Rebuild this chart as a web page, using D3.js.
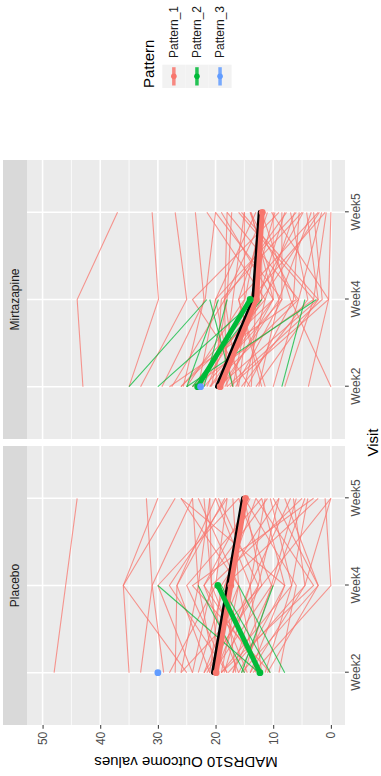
<!DOCTYPE html>
<html>
<head>
<meta charset="utf-8">
<script src="https://cdn.jsdelivr.net/npm/d3@7"></script>
<style>
  html, body { margin: 0; padding: 0; background: #ffffff; }
  svg { display: block; font-family: "Liberation Sans", Arial, sans-serif; }
</style>
</head>
<body>
<svg id="chart" width="381" height="776"></svg>
<script>
// ---- data ----
const visits = ["Week2", "Week4", "Week5"];
const treatments = ["Placebo", "Mirtazapine"];
const patterns = ["Pattern_1", "Pattern_2", "Pattern_3"];
const valueTicks = [0, 10, 20, 30, 40, 50];
const valueMinorTicks = [5, 15, 25, 35, 45];

// individual MADRS10 trajectories, one entry per subject: [Week2, Week4, Week5]
const placeboPattern1 = [
  [48, 46, 44], [35, 36, 30], [33, 31, 24], [29, 31, 32], [27, 26.7, 20],
  [26, 23, 24], [25, 36, 27], [24, 20.7, 22], [23, 18.4, 13], [22, 16, 26],
  [21.5, 12.6, 9], [21, 26.7, 18.4], [20.5, 10.3, 6], [20, 23, 21], [19.5, 20.7, 21],
  [19, 6.8, 4], [19, 16, 23], [18.5, 14, 11.4], [18, 28, 18], [17.8, 4.5, 0],
  [17, 12.6, 19.5], [16.5, 18.4, 2.2], [16, 22, 14], [15.5, 2.2, 8], [15, 10.3, 16],
  [14.5, 20.7, 5], [14, 8, 12], [13.5, 0, 1], [13, 16, 17], [12, 14, 7],
  [11.4, 6.8, 10.5], [10.5, 24, 3], [17, 10, 4.5], [22, 12, 0], [14, 4.5, 6.5],
  [11, 2.2, 10], [9, 6, 15], [28, 20, 18], [24, 30, 16], [16, 8, 26],
  [21, 19, 9], [18, 25, 12], [20, 14, 20], [12, 22, 11], [26, 12, 15], [19, 3, 13]
];
// dropouts after Week4: [Week2, Week4]
const placeboPattern2 = [[12.5, 30], [15, 23], [10.5, 19], [8, 16], [15.5, 10]];
// dropouts after Week2: [Week2]
const placeboPattern3 = [[30]];

const mirtazapinePattern1 = [
  [43, 44, 37], [35, 29.9, 31], [33, 25, 27], [29.3, 21.8, 20], [27.6, 18.4, 18],
  [25.6, 22, 23.5], [25, 15, 15], [24, 11.4, 21.5], [23, 20, 13], [22, 8.5, 20],
  [21.5, 14.9, 12], [21, 5.6, 18], [20.7, 18, 17.2], [20, 12, 12], [19.5, 2.2, 15.5],
  [19, 17, 15], [18.4, 10, 13.8], [18, 18.5, 11.4], [17.5, 0.4, 10.3], [17, 14, 9.7],
  [16.5, 8.5, 8.5], [16.1, 18.4, 7.7], [15.5, 4, 7], [15, 11.4, 6.3], [14.5, 6.5, 5.5],
  [13.8, 13, 4.8], [13, 2.2, 4.2], [12.5, 9, 3.4], [11.4, 16, 2.2], [10, 5.6, 1.6],
  [8, 3, 0.8], [3.9, 0.4, 0], [0, 7, 12], [26, 10, 10], [22.5, 12.6, 8],
  [20, 19, 5], [18, 1.5, 3], [16, 14, 1], [28, 6, 14], [14, 24, 9],
  [24, 3, 16], [17, 20, 6], [21, 10, 19], [12, 16, 11], [26, 12, 2], [19, 9, 14]
];
const mirtazapinePattern2 = [
  [35, 21.5], [30, 13], [25, 2.5], [22, 18], [17, 21], [24, 12], [8.5, 4.5], [25, 19.5]
];
const mirtazapinePattern3 = [[22.6]];

// mean profile per pattern, and the overall mean profile
const placeboMeanP1 = [19.9, 17.35, 14.8];
const placeboMeanP2 = [12.3, 19.6];
const placeboMeanP3 = [30];
const placeboOverall = [20.4, 17.8, 15.2];
const mirtazapineMeanP1 = [19.2, 12.9, 11.9];
const mirtazapineMeanP2 = [23.1, 14.0];
const mirtazapineMeanP3 = [22.6];
const mirtazapineOverall = [19.7, 13.4, 12.3];

// ---- layout / style ----
const patternColors = ["#F8766D", "#00BA38", "#619CFF"];
const W = 776, H = 381;              // plot drawn landscape, then turned
const panelTop = 27, panelBottom = 345;
const facetRange = { Placebo: [51, 330], Mirtazapine: [337, 616] };

const facets = {
  Placebo: {
    subjects: [placeboPattern1, placeboPattern2, placeboPattern3],
    means: [placeboMeanP1, placeboMeanP2, placeboMeanP3],
    overall: placeboOverall
  },
  Mirtazapine: {
    subjects: [mirtazapinePattern1, mirtazapinePattern2, mirtazapinePattern3],
    means: [mirtazapineMeanP1, mirtazapineMeanP2, mirtazapineMeanP3],
    overall: mirtazapineOverall
  }
};

const svg = d3.select("#chart");
const root = svg.append("g").attr("transform", `translate(0,${W}) rotate(-90)`);

const y = d3.scaleLinear().domain([-2.45, 52.7]).range([panelBottom, panelTop]);

treatments.forEach(t => {
  const [x0, x1] = facetRange[t];
  const x = d3.scalePoint().domain(visits).range([x0, x1]).padding(0.6);
  const f = facets[t];
  const g = root.append("g");

  // panel background and grid
  g.append("rect").attr("x", x0).attr("y", panelTop)
    .attr("width", x1 - x0).attr("height", panelBottom - panelTop).attr("fill", "#EBEBEB");
  g.selectAll("line.minor").data(valueMinorTicks).join("line")
    .attr("x1", x0).attr("x2", x1).attr("y1", d => y(d)).attr("y2", d => y(d))
    .attr("stroke", "#ffffff").attr("stroke-width", 0.8);
  g.selectAll("line.majorY").data(valueTicks).join("line")
    .attr("x1", x0).attr("x2", x1).attr("y1", d => y(d)).attr("y2", d => y(d))
    .attr("stroke", "#ffffff").attr("stroke-width", 1.6);
  g.append("g").selectAll("line").data(visits).join("line")
    .attr("x1", d => x(d)).attr("x2", d => x(d)).attr("y1", panelTop).attr("y2", panelBottom)
    .attr("stroke", "#ffffff").attr("stroke-width", 1.6);

  // facet strip
  g.append("rect").attr("x", x0).attr("y", 3).attr("width", x1 - x0).attr("height", panelTop - 3)
    .attr("fill", "#D9D9D9");
  g.append("text").attr("x", (x0 + x1) / 2).attr("y", 15).attr("dy", "0.35em")
    .attr("text-anchor", "middle").attr("font-size", 12).attr("fill", "#1A1A1A").text(t);

  const line = d3.line().x((d, i) => x(visits[i])).y(d => y(d));

  // individual subject trajectories
  f.subjects.forEach((rows, p) => {
    g.append("g").selectAll("path").data(rows.filter(r => r.length > 1)).join("path")
      .attr("d", line).attr("fill", "none")
      .attr("stroke", patternColors[p]).attr("stroke-width", 1.1).attr("stroke-opacity", 0.75);
  });

  // overall mean, underneath the pattern means
  g.append("path").datum(f.overall).attr("d", line).attr("fill", "none")
    .attr("stroke", "#000000").attr("stroke-width", 4.5).attr("stroke-linecap", "round");

  // pattern means
  f.means.forEach((m, p) => {
    if (m.length > 1) {
      g.append("path").datum(m).attr("d", line).attr("fill", "none")
        .attr("stroke", patternColors[p]).attr("stroke-width", 5);
    }
    g.append("g").selectAll("circle").data(m).join("circle")
      .attr("cx", (d, i) => x(visits[i])).attr("cy", d => y(d)).attr("r", 3.4)
      .attr("fill", patternColors[p]);
  });

  // visit axis
  const xAxis = g.append("g").attr("transform", `translate(0,${panelBottom})`)
    .call(d3.axisBottom(x).tickSize(3.75).tickPadding(3));
  xAxis.select(".domain").remove();
  xAxis.selectAll(".tick line").attr("stroke", "#333333").attr("stroke-width", 1);
  xAxis.selectAll(".tick text").attr("fill", "#4D4D4D").attr("font-size", 12)
    .attr("font-family", "Liberation Sans, Arial, sans-serif");
});

// value axis
const yAxis = root.append("g").attr("transform", `translate(${facetRange.Placebo[0]},0)`)
  .call(d3.axisLeft(y).tickValues(valueTicks).tickSize(3.75).tickPadding(3));
yAxis.select(".domain").remove();
yAxis.selectAll(".tick line").attr("stroke", "#333333").attr("stroke-width", 1);
yAxis.selectAll(".tick text").attr("fill", "#4D4D4D").attr("font-size", 12)
  .attr("font-family", "Liberation Sans, Arial, sans-serif");

// axis titles
root.append("text")
  .attr("x", (facetRange.Placebo[0] + facetRange.Mirtazapine[1]) / 2).attr("y", 378)
  .attr("text-anchor", "middle").attr("font-size", 15).attr("fill", "#000000").text("Visit");
root.append("text")
  .attr("transform", `translate(19,${(panelTop + panelBottom) / 2}) rotate(-90)`)
  .attr("text-anchor", "middle").attr("font-size", 15).attr("fill", "#000000")
  .text("MADRS10 Outcome values");

// legend
const legend = root.append("g").attr("transform", "translate(688,0)");
legend.append("text").attr("x", 0).attr("y", 154).attr("font-size", 15).attr("fill", "#000000")
  .text("Pattern");
const keyH = 23.1, keyTop = 162.3, keyW = 23.3;
const keys = legend.selectAll("g.key").data(patterns).join("g")
  .attr("transform", (d, i) => `translate(0,${keyTop + i * keyH})`);
keys.append("rect").attr("width", keyW).attr("height", keyH).attr("fill", "#F2F2F2");
keys.append("line").attr("x1", 2.5).attr("x2", keyW - 2.5)
  .attr("y1", keyH / 2).attr("y2", keyH / 2)
  .attr("stroke", (d, i) => patternColors[i]).attr("stroke-width", 3.5).attr("stroke-opacity", 0.85);
keys.append("circle").attr("cx", keyW / 2).attr("cy", keyH / 2).attr("r", 2.8)
  .attr("fill", (d, i) => patternColors[i]);
keys.append("text").attr("x", 30).attr("y", keyH / 2).attr("dy", "0.35em")
  .attr("font-size", 12).attr("fill", "#1A1A1A").text(d => d);
</script>
</body>
</html>
